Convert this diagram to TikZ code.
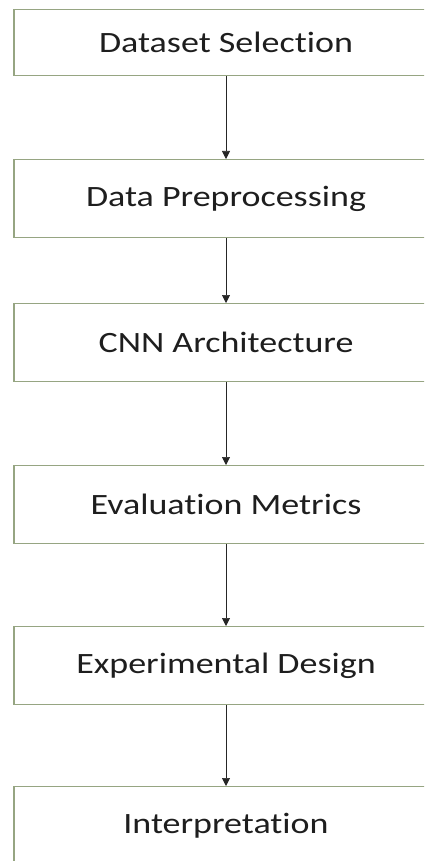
\documentclass[tikz,border=0pt]{standalone}
\usepackage{fontspec}
\setmainfont{Carlito}[FakeStretch=1.22, Ligatures=NoCommon]
\usetikzlibrary{arrows.meta}
\definecolor{boxline}{RGB}{150,165,130}
\definecolor{txt}{RGB}{30,30,30}
\tikzset{
  stepbox/.style={draw=boxline, line width=1.2pt, fill=white, minimum width=424pt, inner sep=0pt, font=\fontsize{29.5}{32}\selectfont, text=txt, anchor=north},
  flow/.style={draw=black!85, line width=0.7pt, -{Triangle[length=8pt,width=8pt]}}
}
\begin{document}
\begin{tikzpicture}[x=1pt,y=-1pt]
\useasboundingbox (0,0) rectangle (424,861);
\clip (0,0) rectangle (424,861);
\node[stepbox, minimum height=66pt] (b1) at (226,9) {Dataset Selection};
\node[stepbox, minimum height=78pt] (b2) at (226,159) {Data Preprocessing};
\node[stepbox, minimum height=78pt] (b3) at (226,303) {CNN Architecture};
\node[stepbox, minimum height=78pt] (b4) at (226,465) {Evaluation Metrics};
\node[stepbox, minimum height=78pt] (b5) at (226,626) {Experimental Design};
\node[stepbox, minimum height=78pt] (b6) at (226,786) {Interpretation};
\draw[flow] (b1.south) -- (b2.north);
\draw[flow] (b2.south) -- (b3.north);
\draw[flow] (b3.south) -- (b4.north);
\draw[flow] (b4.south) -- (b5.north);
\draw[flow] (b5.south) -- (b6.north);
\end{tikzpicture}
\end{document}
